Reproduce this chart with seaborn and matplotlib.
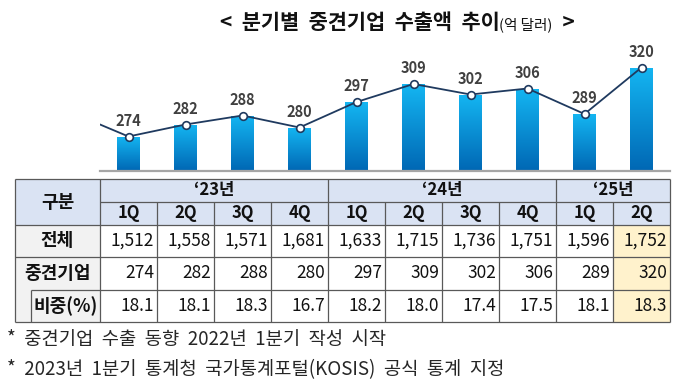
import numpy as np
import pandas as pd
import matplotlib
matplotlib.use('Agg')
import matplotlib.pyplot as plt
import seaborn as sns
from matplotlib.colors import LinearSegmentedColormap

# data
years = ['‘23년', '‘24년', '‘25년']
year_spans = [4, 4, 2]
quarters = ['1Q', '2Q', '3Q', '4Q', '1Q', '2Q', '3Q', '4Q', '1Q', '2Q']
total_exports = [1512, 1558, 1571, 1681, 1633, 1715, 1736, 1751, 1596, 1752]
mid_exports = [274, 282, 288, 280, 297, 309, 302, 306, 289, 320]
mid_share = [18.1, 18.1, 18.3, 16.7, 18.2, 18.0, 17.4, 17.5, 18.1, 18.3]
prev_quarter = 290  # '22 4Q, only the stub of the line shows at the left edge
row_labels = ['전체', '중견기업', '비중(%)']
notes = ['* 중견기업 수출 동향 2022년 1분기 작성 시작',
         '* 2023년 1분기 통계청 국가통계포털(KOSIS) 공식 통계 지정']

sns.set_theme(style='white')
plt.rcParams['font.family'] = ['Noto Sans CJK KR', 'DejaVu Sans']

W, H = 680, 391
fig = plt.figure(figsize=(W / 100, H / 100), dpi=100)
fig.patch.set_facecolor('white')

# overlay axes in pixel coordinates for table and text
tax = fig.add_axes([0, 0, 1, 1])
tax.set_xlim(0, W)
tax.set_ylim(H, 0)
tax.axis('off')

# ---- chart ----
ax = fig.add_axes([100 / W, (H - 171) / H, 570 / W, 126 / H])
ax.patch.set_alpha(0)
labels = [f'{y}{q}' for y, n in zip(years, year_spans) for q in ['1Q', '2Q', '3Q', '4Q'][:n]]
df = pd.DataFrame({'quarter': labels, 'value': mid_exports})
sns.barplot(data=df, x='quarter', y='value', ax=ax, width=0.4, color='#0a8fd8', saturation=1)

ymin, ymax = 251, 335
cmap = LinearSegmentedColormap.from_list('bar', ['#0067b4', '#14b6f2'])
grad = np.linspace(0, 1, 256).reshape(-1, 1)
for p in ax.patches:
    x0, w, top = p.get_x(), p.get_width(), p.get_y() + p.get_height()
    im = ax.imshow(grad, cmap=cmap, extent=(x0, x0 + w, ymin, top),
                   origin='lower', aspect='auto', zorder=2)
    im.set_clip_path(p)
    p.set_facecolor('none')
    p.set_edgecolor('none')

navy = '#1f3a5f'
xs = np.arange(-1, len(mid_exports))
ax.plot(xs, [prev_quarter] + mid_exports, color=navy, lw=1.3, zorder=3)
ax.plot(xs[1:], mid_exports, 'o', mfc='white', mec=navy, mew=1.2, ms=5.5, zorder=4)
for i, v in enumerate(mid_exports):
    ax.annotate(str(v), (i, v), xytext=(0, 11.5), textcoords='offset points',
                ha='center', va='center', fontsize=10.5, fontweight='bold',
                color='#404040', annotation_clip=False)

ax.set_xlim(-0.5, len(mid_exports) - 0.5)
ax.set_ylim(ymin, ymax)
ax.set_xticks([])
ax.set_yticks([])
ax.set_xlabel('')
ax.set_ylabel('')
sns.despine(ax=ax, left=True)
ax.spines['bottom'].set_color('#a6a6a6')
ax.spines['bottom'].set_linewidth(1.6)

# ---- table ----
left, first_w, col_w = 15, 85, 57
col_edges = [left + first_w + col_w * i for i in range(len(quarters) + 1)]
right = col_edges[-1]
rows = [179, 202, 225, 257, 290, 322]
blue, gray, yellow, lc = '#dae3f3', '#f2f2f2', '#fff2cc', '#595959'

def rect(x0, y0, x1, y1, c):
    tax.add_patch(plt.Rectangle((x0, y0), x1 - x0, y1 - y0, facecolor=c, edgecolor='none', zorder=1))

rect(left, rows[0], right, rows[2], blue)
rect(left, rows[2], col_edges[0], rows[5], gray)
rect(col_edges[-2], rows[2], right, rows[5], yellow)

def hline(y, x0, x1):
    tax.plot([x0, x1], [y, y], color=lc, lw=0.9, zorder=2, solid_capstyle='butt')

def vline(x, y0, y1):
    tax.plot([x, x], [y0, y1], color=lc, lw=0.9, zorder=2, solid_capstyle='butt')

hline(rows[0], left, right)
hline(rows[1], col_edges[0], right)
hline(rows[2], left, right)
hline(rows[3], left, right)
hline(rows[4], 31, right)
hline(rows[5], left, right)
vline(left, rows[0], rows[5])
vline(right, rows[0], rows[5])
vline(31, rows[4], rows[5])
group_edges = np.cumsum([0] + year_spans)
for i, x in enumerate(col_edges[:-1]):
    top = rows[0] if i in group_edges else rows[1]
    vline(x, top, rows[5])

txt = '#111111'
tax.text((left + col_edges[0]) / 2, (rows[0] + rows[2]) / 2, '구분', ha='center', va='center',
         fontsize=13, fontweight='bold', color=txt)
for y, a, b in zip(years, group_edges[:-1], group_edges[1:]):
    tax.text((col_edges[a] + col_edges[b]) / 2, (rows[0] + rows[1]) / 2, y, ha='center', va='center',
             fontsize=12, fontweight='bold', color=txt)
for i, q in enumerate(quarters):
    tax.text((col_edges[i] + col_edges[i + 1]) / 2, (rows[1] + rows[2]) / 2, q, ha='center',
             va='center', fontsize=12, fontweight='bold', color=txt)

label_x = [(left + col_edges[0]) / 2, (left + col_edges[0]) / 2, (31 + col_edges[0]) / 2]
for r, (lab, lx) in enumerate(zip(row_labels, label_x)):
    tax.text(lx, (rows[r + 2] + rows[r + 3]) / 2, lab, ha='center', va='center',
             fontsize=13, fontweight='bold', color=txt)

row_vals = [[f'{v:,}' for v in total_exports], [str(v) for v in mid_exports],
            [f'{v:.1f}' for v in mid_share]]
for r, vals in enumerate(row_vals):
    for i, s in enumerate(vals):
        tax.text(col_edges[i + 1] - 3, (rows[r + 2] + rows[r + 3]) / 2, s, ha='right',
                 va='center', fontsize=12.5, color=txt)

# ---- title ----
renderer = fig.canvas.get_renderer()
parts = [('<  분기별  중견기업  수출액  추이', 15, 'bold'), ('(억 달러)', 10.5, 'normal'), ('  >', 15, 'bold')]
objs, widths = [], []
for s, size, weight in parts:
    t = tax.text(0, 29, s, ha='left', va='baseline', fontsize=size, fontweight=weight, color='#111111')
    objs.append(t)
    widths.append(t.get_window_extent(renderer).width)
x = 397 - sum(widths) / 2
for t, w in zip(objs, widths):
    t.set_x(x)
    x += w

# ---- notes ----
for y, s in zip([340, 370], notes):
    tax.text(7, y, s.replace(' ', '  '), ha='left', va='center', fontsize=13.5, color='#262626')

fig.savefig('out.png', dpi=100)
